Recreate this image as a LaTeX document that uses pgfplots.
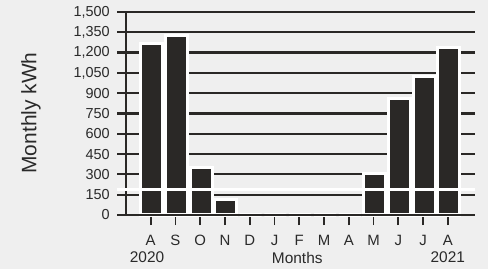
\documentclass[border=0pt]{standalone}
\usepackage{pgfplots}
\pgfplotsset{compat=1.18}
\usepackage{fontspec}
\setmainfont{Liberation Sans}
\definecolor{ink}{HTML}{2A2826}
\definecolor{bg}{HTML}{EFEFEF}
\definecolor{txt}{HTML}{2A2A2A}
\begin{document}
\begin{tikzpicture}
\path[use as bounding box, fill=bg] (0,0) rectangle (488bp,269bp);
\begin{axis}[
  at={(117.3bp,54bp)}, anchor=south west,
  scale only axis, width=357.7bp, height=203bp,
  xmin=-1.35, xmax=13.1, ymin=0, ymax=1500,
  clip=false,
  axis line style={draw=none},
  ytick={0,150,...,1500},
  ymajorgrids=true,
  major grid style={ink, line width=2.2bp},
  y tick style={draw=none},
  xtick={0,...,12},
  xticklabels={A,S,O,N,D,J,F,M,A,M,J,J,A},
  xtick pos=bottom, tick align=outside,
  major tick length=10bp,
  x tick style={ink, line width=1.9bp},
  ticklabel style={font=\fontsize{15}{15}\selectfont, text=txt},
  yticklabel style={font=\fontsize{14.5}{14.5}\selectfont, xshift=6bp},
  xticklabel style={yshift=-7bp},
  /pgf/number format/.cd, 1000 sep={,}, assume math mode=true,
]
\addplot[ybar, bar width=22bp, bar shift=1bp, fill=ink, draw=white, line width=3bp]
  coordinates {(0,1265) (1,1330) (2,350) (3,112) (4,0) (5,0) (6,0) (7,0) (8,0) (9,303) (10,862) (11,1027) (12,1238)};
\addplot[ink, line width=2.2bp] coordinates {(-1.35,0) (13.1,0)};
\addplot[ink, line width=2.2bp] coordinates {(-1,0) (-1,1500)};
\addplot[white, line width=2.5bp] coordinates {(-1.35,190) (13.1,190)};
\node[txt, font=\fontsize{15.5}{15.5}\selectfont] at (axis cs:-0.15,-315) {2020};
\node[txt, font=\fontsize{15.5}{15.5}\selectfont] at (axis cs:5.92,-315) {Months};
\node[txt, font=\fontsize{15.5}{15.5}\selectfont] at (axis cs:12.0,-315) {2021};
\end{axis}
\node[txt, rotate=90, font=\fontsize{21}{21}\selectfont] at (31bp,156bp) {Monthly kWh};
\end{tikzpicture}
\end{document}
